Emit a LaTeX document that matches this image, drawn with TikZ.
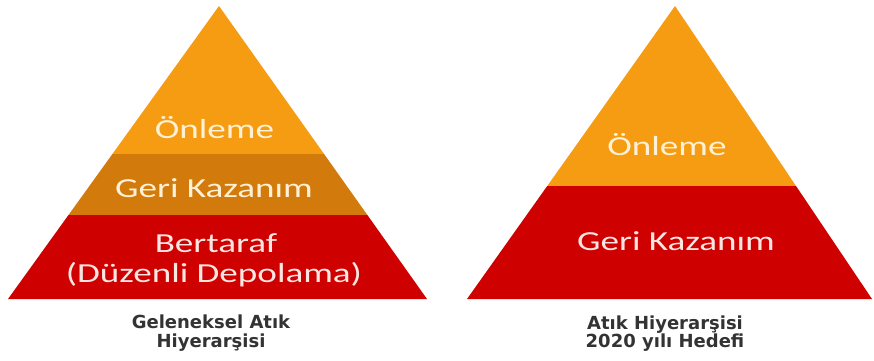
\documentclass[tikz,border=0pt]{standalone}
\usepackage{fontspec}
\setmainfont{Carlito}
\newfontfamily\capfont{DejaVu Sans}
\definecolor{orangeA}{HTML}{F69C12}
\definecolor{orangeB}{HTML}{D27A0C}
\definecolor{redA}{HTML}{CE0000}
\definecolor{txtA}{HTML}{FFF1D6}
\definecolor{txtB}{HTML}{FBE6E2}
\definecolor{capgrey}{HTML}{333333}
\tikzset{
  lbl/.style={anchor=base, inner sep=0pt, font=\fontsize{27.5}{30}\selectfont, xscale=1.35, transform shape},
  capt/.style={anchor=base, inner sep=0pt, align=center, text=capgrey, font=\capfont\bfseries\fontsize{18}{19}\selectfont},
}
\begin{document}
\begin{tikzpicture}[x=1pt,y=-1pt]
\useasboundingbox (0,0) rectangle (874,360);
\fill[white] (0,0) rectangle (874,360);
% left pyramid
\begin{scope}
  \clip (219,6) -- (427,299) -- (8,299) -- cycle;
  \fill[orangeA] (0,0) rectangle (440,154);
  \fill[orangeB] (0,154) rectangle (440,215);
  \fill[redA] (0,215) rectangle (440,300);
\end{scope}
% right pyramid
\begin{scope}
  \clip (675,6) -- (872,299) -- (467,299) -- cycle;
  \fill[orangeA] (440,0) rectangle (874,186);
  \fill[redA] (440,186) rectangle (874,300);
\end{scope}
\node[lbl, text=txtA] (l1) at (214.5,138) {Önleme};
\node[lbl, text=txtA] (l2) at (214,197) {Geri Kazanım};
\node[lbl, text=txtB] (l3) at (216,252) {Bertaraf};
\node[lbl, text=txtB] (l4) at (214,282) {(Düzenli Depolama)};
\node[lbl, text=txtA] (r1) at (667,155) {Önleme};
\node[lbl, text=txtB] (r2) at (676,250) {Geri Kazanım};
\node[capt] (c1) at (211,328) {Geleneksel Atık};
\node[capt] (c2) at (211,347) {Hiyerarşisi};
\node[capt] (c3) at (665,329) {Atık Hiyerarşisi};
\node[capt] (c4) at (665,347) {2020 yılı Hedefi};
\end{tikzpicture}
\end{document}
